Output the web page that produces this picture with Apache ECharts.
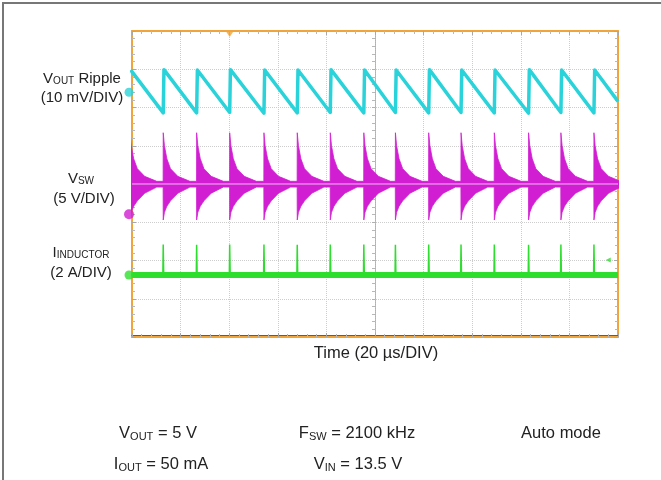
<!DOCTYPE html>
<html>
<head>
<meta charset="utf-8">
<script src="https://cdn.jsdelivr.net/npm/echarts@6/dist/echarts.min.js"></script>
<style>
  html, body { margin: 0; padding: 0; background: #fff; }
  #chart { width: 661px; height: 480px; }
</style>
</head>
<body>
<div id="chart"></div>
<script>
// scope screen: 10 div x 20 us, 8 div vertical
const timeRange = [0, 200];
const timeDiv = 20;
const divRange = [-4, 4];

// channel settings: ground marker (div from centre) and volts/div
const chNames = ['Vout', 'SW', 'IL'];
const chPos = [2.40, -0.79, -2.38];
const chScale = [10, 5, 2]; // mV/div, V/div, A/div

// switching pulses (us)
const pulseTimes = [-0.8, 12.85, 26.6, 40.2, 54.3, 68.0, 81.6, 95.4, 108.4, 122.1, 135.4, 149.1, 163.2, 176.5, 190.1];

// Vout ripple (mV): peak right after each pulse, valley just before it
const rippleHigh = [5.8, 5.9, 5.8, 5.9, 5.8, 5.8, 5.9, 5.8, 5.8, 5.9, 5.8, 5.8, 5.9, 5.8, 5.8];
const rippleLow = [null, -5.4, -5.4, -5.3, -5.5, -5.4, -5.3, -5.4, -5.3, -5.4, -5.3, -5.4, -5.5, -5.3, -5.4];
const rippleEnd = -2.4;

// SW node ringing envelope after each edge (us after edge, V around idle level)
const swIdle = 3.95;
const ringT = [0, 0.5, 1.5, 3, 6, 11];
const ringUp = [6.7, 5.0, 3.3, 2.0, 1.0, 0.35];
const ringDown = [-4.7, -3.7, -2.9, -2.2, -1.2, -0.4];

// inductor current spike peaks (A)
const ilPeak = [1.6, 1.6, 1.58, 1.6, 1.6, 1.58, 1.6, 1.6, 1.58, 1.6, 1.6, 1.6, 1.58, 1.6, 1.6];
const ilBase = 0;

const cyan = '#2ad3d9';
const magenta = '#d21ed2';
const green = '#2ede2e';
const orange = '#f0a43a';
const font = '"Liberation Sans", Arial, Helvetica, sans-serif';

function toDiv(ch, v) {
    return chPos[ch] + v / chScale[ch];
}

// build traces
const cyanData = [];
pulseTimes.forEach((t, i) => {
    if (rippleLow[i] != null) cyanData.push([t, toDiv(0, rippleLow[i])]);
    cyanData.push([t + 0.3, toDiv(0, rippleHigh[i])]);
});
cyanData.push([timeRange[1], toDiv(0, rippleEnd)]);

const swUp = [], swDown = [];
const last = ringT.length - 1;
pulseTimes.forEach((t, i) => {
    const next = i + 1 < pulseTimes.length ? pulseTimes[i + 1] : 215;
    ringT.forEach((dt, k) => {
        swUp.push([t + dt, toDiv(1, swIdle + ringUp[k])]);
        swDown.push([t + dt, toDiv(1, swIdle + ringDown[k])]);
    });
    swUp.push([next - 0.05, toDiv(1, swIdle + ringUp[last])]);
    swDown.push([next - 0.05, toDiv(1, swIdle + ringDown[last])]);
});
const swMid = [[timeRange[0], toDiv(1, swIdle)], [timeRange[1], toDiv(1, swIdle)]];

const ilBand = [[timeRange[0], toDiv(2, ilBase)], [timeRange[1], toDiv(2, ilBase)]];
const ilSpikes = [];
pulseTimes.forEach((t, i) => {
    ilSpikes.push([t - 0.15, toDiv(2, ilBase)]);
    ilSpikes.push([t, toDiv(2, ilPeak[i])]);
    ilSpikes.push([t + 0.2, toDiv(2, ilBase)]);
});

const chart = echarts.init(document.getElementById('chart'));

const edgeTick = { show: true, inside: true, length: 4, lineStyle: { color: '#a8a8a8' } };
const edgeMinor = { show: true, splitNumber: 5, length: 3, lineStyle: { color: '#b8b8b8' } };
const gridLine = { show: true, lineStyle: { type: 'dotted', color: '#cdcdcd', width: 1 } };

function timeAxis(extra) {
    return Object.assign({
        type: 'value', min: timeRange[0], max: timeRange[1], interval: timeDiv,
        axisLine: { onZero: false, lineStyle: { color: orange, width: 2 } },
        axisTick: edgeTick, minorTick: edgeMinor,
        axisLabel: { show: false }, splitLine: { show: false }
    }, extra);
}
function divAxis(extra) {
    return Object.assign({
        type: 'value', min: divRange[0], max: divRange[1], interval: 1,
        axisLine: { onZero: false, lineStyle: { color: orange, width: 2 } },
        axisTick: edgeTick, minorTick: edgeMinor,
        axisLabel: { show: false }, splitLine: { show: false }
    }, extra);
}

// text with an optional subscript part
function label(main, s, rest, size, drop) {
    const subSize = Math.round(size * 0.66);
    return {
        text: '{a|' + main + '}' + (s ? '{s|' + s + '}' : '') + (rest ? '{a|' + rest + '}' : ''),
        rich: {
            a: { fontSize: size, fontFamily: font, lineHeight: 22, verticalAlign: 'bottom', fill: '#222' },
            s: { fontSize: subSize, fontFamily: font, lineHeight: 22 - 2 * (drop + 6), verticalAlign: 'bottom', fill: '#222' }
        }
    };
}
function textEl(x, y, style) {
    return {
        type: 'text', x: x, y: y,
        style: Object.assign({ align: 'center', verticalAlign: 'middle' }, style)
    };
}

const option = {
    animation: false,
    grid: { left: 132, top: 31, width: 486, height: 306 },
    xAxis: [
        timeAxis({ position: 'bottom', splitLine: gridLine }),
        timeAxis({ position: 'top' }),
        {
            type: 'value', min: -5, max: 5, interval: 1,
            axisLine: { onZero: true, onZeroAxisIndex: 0, lineStyle: { color: '#b0b0b0', width: 1, type: 'dotted' } },
            axisTick: { show: true, inside: true, length: 3, lineStyle: { color: '#b0b0b0' } },
            minorTick: { show: true, splitNumber: 5, length: 3, lineStyle: { color: '#b8b8b8' } },
            axisLabel: { show: false }, splitLine: { show: false }
        },
        {
            type: 'value', min: timeRange[0], max: timeRange[1], position: 'bottom', offset: -2,
            axisLine: { onZero: false, lineStyle: { color: '#3d6b6b', width: 1 } },
            axisTick: { show: false }, axisLabel: { show: false }, splitLine: { show: false }
        }
    ],
    yAxis: [
        divAxis({ position: 'left', splitLine: gridLine }),
        divAxis({ position: 'right' }),
        {
            type: 'value', min: divRange[0], max: divRange[1], interval: 1,
            axisLine: { onZero: true, onZeroAxisIndex: 2, lineStyle: { color: '#b0b0b0', width: 1, type: 'dotted' } },
            axisTick: { show: true, inside: true, length: 3, lineStyle: { color: '#b0b0b0' } },
            minorTick: { show: true, splitNumber: 5, length: 3, lineStyle: { color: '#b8b8b8' } },
            axisLabel: { show: false }, splitLine: { show: false }
        }
    ],
    series: [
        {
            name: chNames[1] + ' up', type: 'line', data: swUp, showSymbol: false, z: 3,
            lineStyle: { color: magenta, width: 0.8 },
            areaStyle: { color: magenta, opacity: 1, origin: 'auto' }
        },
        {
            name: chNames[1] + ' down', type: 'line', data: swDown, showSymbol: false, z: 3,
            lineStyle: { color: magenta, width: 0.8 },
            areaStyle: { color: magenta, opacity: 1, origin: 'auto' }
        },
        {
            name: chNames[1] + ' mid', type: 'line', data: swMid, showSymbol: false, z: 4,
            lineStyle: { color: '#f2b6f2', width: 1 }
        },
        {
            name: chNames[0], type: 'line', data: cyanData, showSymbol: false, z: 4,
            lineStyle: { color: cyan, width: 3.5, join: 'round' }
        },
        {
            name: chNames[2] + ' band', type: 'line', data: ilBand, showSymbol: false, z: 4,
            lineStyle: { color: green, width: 6 }
        },
        {
            name: chNames[2], type: 'line', data: ilSpikes, showSymbol: false, z: 4,
            lineStyle: { color: green, width: 1.5 }
        },
        {
            name: 'markers', type: 'scatter', clip: false, z: 6, symbol: 'circle', symbolOffset: [-3, 0],
            data: [
                { value: [timeRange[0], chPos[0]], symbolSize: 9, itemStyle: { color: cyan } },
                { value: [timeRange[0], chPos[1]], symbolSize: 10, itemStyle: { color: magenta } },
                { value: [timeRange[0], chPos[2]], symbolSize: 9, itemStyle: { color: green } }
            ]
        },
        {
            name: 'trigger', type: 'scatter', clip: false, z: 6, symbol: 'triangle', symbolRotate: 180,
            symbolSize: [8, 6], symbolOffset: [0, 3],
            data: [{ value: [pulseTimes[3], divRange[1]], itemStyle: { color: orange } }]
        },
        {
            name: 'trigger level', type: 'scatter', clip: false, z: 6, symbol: 'triangle', symbolRotate: 90,
            symbolSize: [5, 5],
            data: [{ value: [196, toDiv(2, 0.79)], itemStyle: { color: green } }]
        }
    ],
    graphic: [
        { type: 'line', shape: { x1: 2, y1: 3, x2: 661, y2: 3 }, style: { stroke: '#777', lineWidth: 2 } },
        { type: 'line', shape: { x1: 3, y1: 3, x2: 3, y2: 480 }, style: { stroke: '#777', lineWidth: 2 } },
        textEl(82, 75, label('V', 'OUT', ' Ripple', 15, 1.5)),
        textEl(82, 94, label('(10 mV/DIV)', '', '', 15, 0)),
        textEl(81, 175, label('V', 'SW', '', 15, 1.5)),
        textEl(84, 195, label('(5 V/DIV)', '', '', 15, 0)),
        textEl(81, 249, label('I', 'INDUCTOR', '', 15, 1.5)),
        textEl(81, 269, label('(2 A/DIV)', '', '', 15, 0)),
        textEl(376, 351, label('Time (20 µs/DIV)', '', '', 16.5, 0)),
        textEl(158, 431, label('V', 'OUT', ' = 5 V', 16.5, 2.5)),
        textEl(357, 431, label('F', 'SW', ' = 2100 kHz', 16.5, 2.5)),
        textEl(561, 431, label('Auto mode', '', '', 16.5, 0)),
        textEl(161, 462, label('I', 'OUT', ' = 50 mA', 16.5, 2.5)),
        textEl(358, 462, label('V', 'IN', ' = 13.5 V', 16.5, 2.5))
    ]
};

chart.setOption(option);
</script>
</body>
</html>
